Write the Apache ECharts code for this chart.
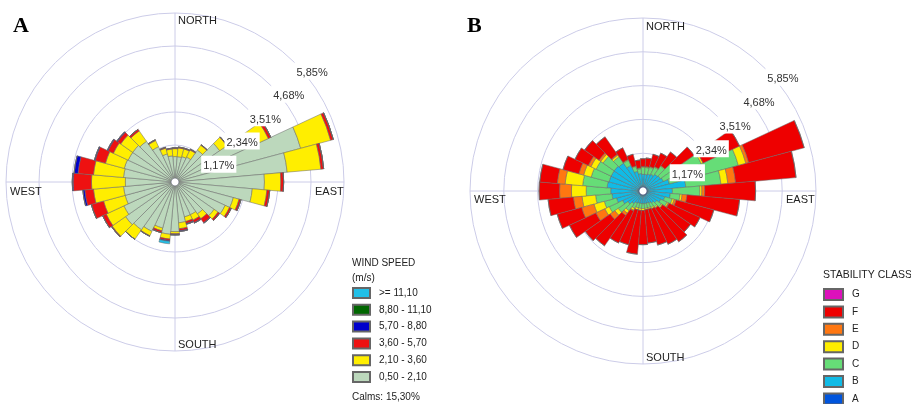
<!DOCTYPE html>
<html>
<head>
<meta charset="utf-8">
<script src="https://cdn.jsdelivr.net/npm/echarts@6/dist/echarts.min.js"></script>
<style>
html, body { margin: 0; background: #fff; }
#main { width: 911px; height: 404px; }
</style>
</head>
<body>
<div id="main"></div>
<script>
// directions, 10 degree sectors from north, clockwise
var dirs = ['0','10','20','30','40','50','60','70','80','90','100','110','120','130','140','150','160','170',
            '180','190','200','210','220','230','240','250','260','270','280','290','300','310','320','330','340','350'];
var ringLabels = ['1,17%', '2,34%', '3,51%', '4,68%', '5,85%'];

// A: wind speed classes (% of time)
var speedNames = ['0,50 - 2,10', '2,10 - 3,60', '3,60 - 5,70', '5,70 - 8,80', '8,80 - 11,10', '>= 11,10'];
var speed1 = [0.76,0.76,0.79,0.83,1.24,1.79,2.86,4.47,3.85,3.03,2.61,2.00,1.82,1.55,1.24,1.14,1.14,1.31,
              1.62,1.72,1.55,1.79,1.93,2.00,1.86,1.69,1.69,1.62,1.69,1.72,1.69,1.69,1.62,1.24,0.89,0.79];
var speed2 = [0.28,0.31,0.28,0.28,0.21,0.31,0.65,1.10,1.20,0.58,0.52,0.21,0.17,0.17,0.21,0.21,0.17,0.21,
              0.07,0.17,0.10,0.17,0.41,0.58,0.69,0.79,1.07,1.20,1.07,0.69,0.58,0.52,0.45,0.24,0.21,0.24];
var speed3 = [0.03,0.03,0.03,0.03,0.02,0.02,0.10,0.10,0.10,0.10,0.10,0.07,0.07,0.07,0.17,0.10,0.07,0.07,
              0.03,0.05,0.07,0.02,0,0.03,0.14,0.45,0.31,0.65,0.55,0.38,0.21,0.14,0.07,0.03,0.03,0.03];
var speed4 = [0,0,0,0,0,0,0,0,0,0,0,0,0,0,0.02,0.02,0.03,0.03,
              0.02,0.03,0,0,0,0,0,0,0.07,0.03,0.14,0.03,0.03,0.03,0,0,0,0];
var speed5 = [0,0,0,0,0,0,0,0,0,0,0,0,0,0,0,0,0,0,
              0,0,0,0,0,0,0,0,0,0,0,0,0,0,0,0,0,0];
var speed6 = [0,0,0,0,0,0,0,0,0,0,0,0,0,0,0,0,0,0,
              0,0.09,0,0,0,0,0,0,0,0,0,0,0,0,0,0,0,0];
var speedColors = ['#bcd8bc', '#ffee00', '#ee1111', '#0000cc', '#006600', '#22c0e8'];

// B: stability classes (% of time)
var classNames = ['A', 'B', 'C', 'D', 'E', 'F', 'G'];
var classA = [0.03,0.03,0.03,0.03,0.03,0.03,0.03,0.03,0.03,0.03,0.03,0.03,0.03,0.03,0.03,0.03,0.03,0.03,
              0.03,0.03,0.03,0.03,0.03,0.03,0.03,0.03,0.03,0.03,0.03,0.03,0.03,0.03,0.03,0.03,0.03,0.03];
var classB = [0.41,0.41,0.44,0.47,0.54,0.57,0.61,0.78,1.32,0.85,0.78,0.61,0.51,0.41,0.34,0.30,0.27,0.27,
              0.27,0.27,0.27,0.30,0.37,0.47,0.61,0.78,0.91,0.95,1.08,1.05,1.05,1.05,1.01,0.81,0.54,0.44];
var classC = [0.24,0.24,0.24,0.27,0.34,0.54,1.45,2.47,1.22,0.95,0.34,0.27,0.24,0.20,0.17,0.17,0.17,0.17,
              0.17,0.17,0.17,0.20,0.30,0.41,0.51,0.44,0.57,0.85,0.85,0.64,0.57,0.47,0.27,0.20,0.17,0.17];
var classD = [0.03,0.03,0.03,0.03,0.03,0.03,0.07,0.27,0.24,0.07,0.07,0.07,0.05,0.05,0.05,0.05,0.05,0.05,
              0.07,0.07,0.07,0.07,0.10,0.14,0.17,0.37,0.47,0.51,0.61,0.27,0.20,0.10,0.07,0.03,0.03,0.03];
var classE = [0,0,0,0,0,0,0,0.10,0.27,0.10,0.17,0.07,0.03,0,0,0,0,0,
              0,0,0,0.03,0.10,0.20,0.34,0.44,0.30,0.41,0.27,0.17,0.10,0.07,0.03,0,0,0];
var classF = [0.27,0.30,0.44,0.51,0.57,0.85,1.39,1.99,2.10,1.76,1.83,1.35,1.18,1.18,1.42,1.35,1.28,1.15,
              1.18,1.52,1.25,1.22,1.28,1.05,1.01,0.88,0.88,0.71,0.61,0.57,0.51,0.61,0.74,0.44,0.41,0.27];
var classG = [0,0,0,0,0,0,0,0,0,0,0,0,0,0,0,0,0,0,
              0,0,0,0,0,0,0,0,0,0,0,0,0,0,0,0,0,0];
var classColors = ['#0055dd', '#11bbe6', '#66dd77', '#ffee00', '#ff7711', '#ee0000', '#dd11bb'];

var FONT = 'Liberation Sans, Arial, sans-serif';
var RING = '#cccce8';

var myChart = echarts.init(document.getElementById('main'));

function hidden() {
    return { axisLine: { show: false }, axisTick: { show: false }, axisLabel: { show: false }, splitLine: { show: false } };
}

// three polars per rose: data + rings, cross lines, ring labels
function polars(center, r) {
    return [
        { center: center, radius: [4, r] },
        { center: center, radius: [4, r] },
        { center: center, radius: [4, r] }
    ];
}

function angleAxes(base) {
    return [
        Object.assign({ polarIndex: base, type: 'category', data: dirs, startAngle: 95, boundaryGap: true }, hidden()),
        Object.assign(hidden(), {
            polarIndex: base + 1, type: 'value', min: 0, max: 360, interval: 90, startAngle: 90,
            splitLine: { show: true, lineStyle: { color: RING, width: 1 } }
        }),
        Object.assign({ polarIndex: base + 2, type: 'value', min: 0, max: 360, startAngle: 45 }, hidden())
    ];
}

function radiusAxes(base) {
    return [
        Object.assign(hidden(), {
            polarIndex: base, type: 'value', min: 0, max: 5.85, interval: 1.17,
            splitLine: { show: true, lineStyle: { color: RING, width: 1 } }
        }),
        Object.assign({ polarIndex: base + 1, type: 'value', min: 0, max: 5.85 }, hidden()),
        Object.assign(hidden(), {
            polarIndex: base + 2, type: 'value', min: 0, max: 5.85, interval: 1.17, z: 10,
            axisLabel: {
                show: true, showMinLabel: false, margin: 0, align: 'left', verticalAlign: 'top',
                fontFamily: FONT, fontSize: 11, color: '#333', backgroundColor: '#fff', padding: [5, 2, 1, 2],
                formatter: function (v) {
                    var i = Math.round(v / 1.17);
                    return i > 0 ? ringLabels[i - 1] : '';
                }
            }
        })
    ];
}

var series = [];
[speed1, speed2, speed3, speed4, speed5, speed6].forEach(function (d, i) {
    series.push({
        name: speedNames[i], type: 'bar', coordinateSystem: 'polar', polarIndex: 0,
        stack: 'wind', barCategoryGap: '0%', data: d,
        itemStyle: { color: speedColors[i], borderColor: '#666', borderWidth: 0.5 }
    });
});
[classA, classB, classC, classD, classE, classF, classG].forEach(function (d, i) {
    series.push({
        name: classNames[i], type: 'bar', coordinateSystem: 'polar', polarIndex: 3,
        stack: 'stability', barCategoryGap: '0%', data: d,
        itemStyle: { color: classColors[i], borderColor: '#666', borderWidth: 0.5 }
    });
});

function label(text, left, top, size, extra) {
    return {
        text: text, left: left, top: top, padding: 0,
        textStyle: Object.assign({ fontFamily: FONT, fontSize: size || 11, fontWeight: 'normal', color: '#222' }, extra || {})
    };
}
var serif = { fontFamily: 'Liberation Serif, Times New Roman, serif', fontWeight: 'bold', color: '#000' };
var legendText = { fontFamily: FONT, fontSize: 10, color: '#222', lineHeight: 12, padding: [0, 0, 0, 4] };

myChart.setOption({
    animation: false,
    title: [
        label('A', 13, 15, 22, serif),
        label('B', 467, 15, 22, serif),
        label('NORTH', 178, 15),
        label('WEST', 10, 186),
        label('EAST', 315, 186),
        label('SOUTH', 178, 339),
        label('NORTH', 646, 21),
        label('WEST', 474, 194),
        label('EAST', 786, 194),
        label('SOUTH', 646, 352),
        label('WIND SPEED\n(m/s)', 352, 256, 10, { lineHeight: 15 }),
        label('Calms: 15,30%', 352, 392, 10),
        label('STABILITY CLASS', 823, 270, 10.5)
    ],
    legend: [{
        data: speedNames.slice().reverse(), left: 352, top: 287, orient: 'vertical', padding: 0, height: 120,
        itemWidth: 17, itemHeight: 10, itemGap: 4.8, icon: 'rect', selectedMode: false,
        textStyle: legendText
    }, {
        data: classNames.slice().reverse(), left: 823, top: 288, orient: 'vertical', padding: 0, height: 130,
        itemWidth: 19, itemHeight: 11, itemGap: 4.4, icon: 'rect', selectedMode: false,
        textStyle: legendText
    }],
    polar: polars([175, 182], 169).concat(polars([643, 191], 173)),
    angleAxis: angleAxes(0).concat(angleAxes(3)),
    radiusAxis: radiusAxes(0).concat(radiusAxes(3)),
    series: series
});
</script>
</body>
</html>
